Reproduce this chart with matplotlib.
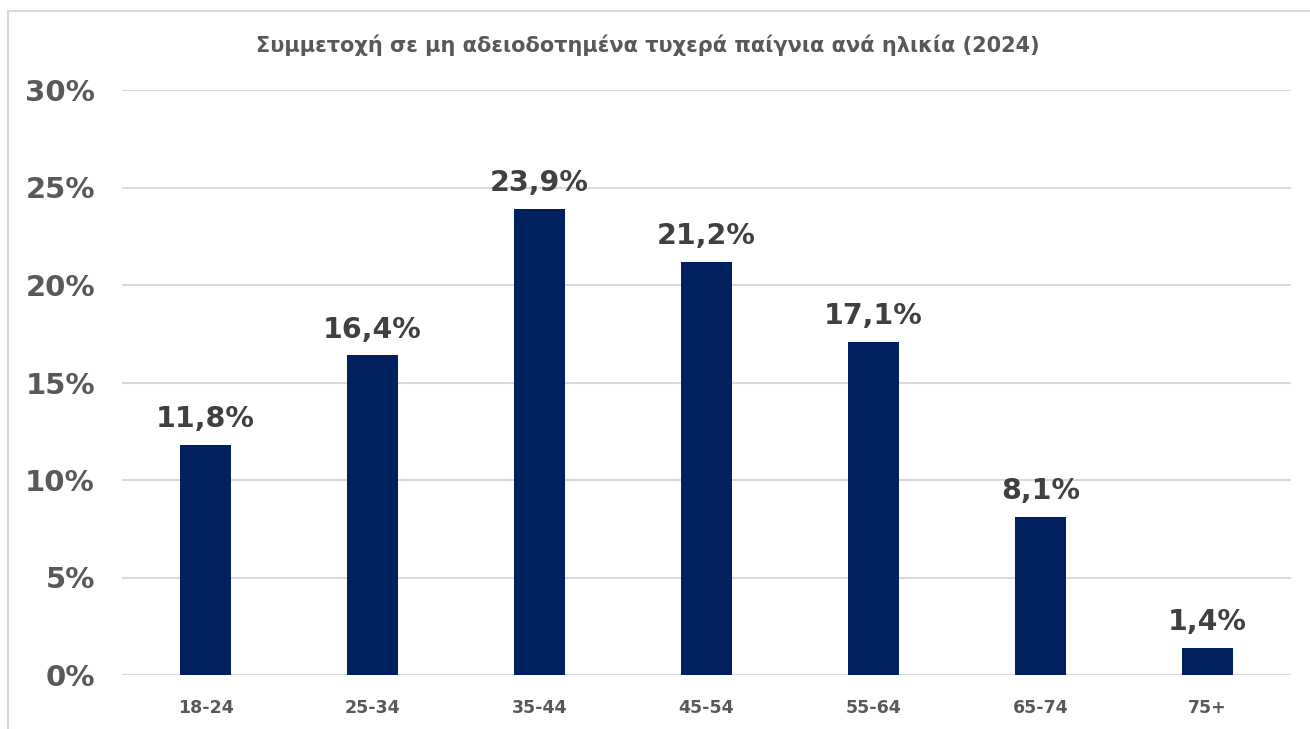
import numpy as np
import matplotlib.pyplot as plt
from matplotlib.patches import Rectangle

ages = ['18-24', '25-34', '35-44', '45-54', '55-64', '65-74', '75+']
values = [11.8, 16.4, 23.9, 21.2, 17.1, 8.1, 1.4]
yticks = [0, 5, 10, 15, 20, 25, 30]
title = 'Συμμετοχή σε μη αδειοδοτημένα τυχερά παίγνια ανά ηλικία (2024)'

W, H = 1310, 729
my_dpi = 100
fig = plt.figure(figsize=(W/my_dpi, H/my_dpi), dpi=my_dpi)
plt.rcParams['font.family'] = ['DejaVu Sans']

# chart frame (cut off at right/bottom like the screenshot)
fig.patches.append(Rectangle((8/W, -0.1), 1.2, (H - 11)/H + 0.1, transform=fig.transFigure,
                             fill=False, edgecolor='#D9D9D9', linewidth=1.5))

ax = fig.add_axes([122/W, 1 - 675/H, (1291 - 122)/W, (675 - 90)/H])
x = np.arange(len(ages))
ax.bar(x, values, width=0.31, color='#002060', zorder=3)
for xi, v in zip(x, values):
    ax.text(xi, v + 0.6, ('%.1f%%' % v).replace('.', ','), ha='center', va='bottom',
            fontsize=20.5, fontweight='heavy', color='#404040')

ax.set_xlim(-0.5, len(ages) - 0.5)
ax.set_ylim(0, 30)
ax.set_yticks(yticks)
ax.set_yticklabels(['%d%%' % t for t in yticks])
ax.set_xticks(x)
ax.set_xticklabels(ages)
ax.grid(axis='y', color='#D9D9D9', linewidth=1.5, zorder=0)
for s in ax.spines.values():
    s.set_visible(False)
ax.tick_params(axis='both', length=0)
ax.tick_params(axis='y', labelsize=21, labelcolor='#595959', pad=19.5)
ax.tick_params(axis='x', labelsize=12.5, labelcolor='#595959', pad=17)
for lab in ax.get_xticklabels() + ax.get_yticklabels():
    lab.set_fontweight('bold')

fig.text(648/W, 1 - 45/H, title, ha='center', va='center', fontsize=15,
         fontweight='bold', color='#595959')

plt.savefig('out.png', dpi=my_dpi)
